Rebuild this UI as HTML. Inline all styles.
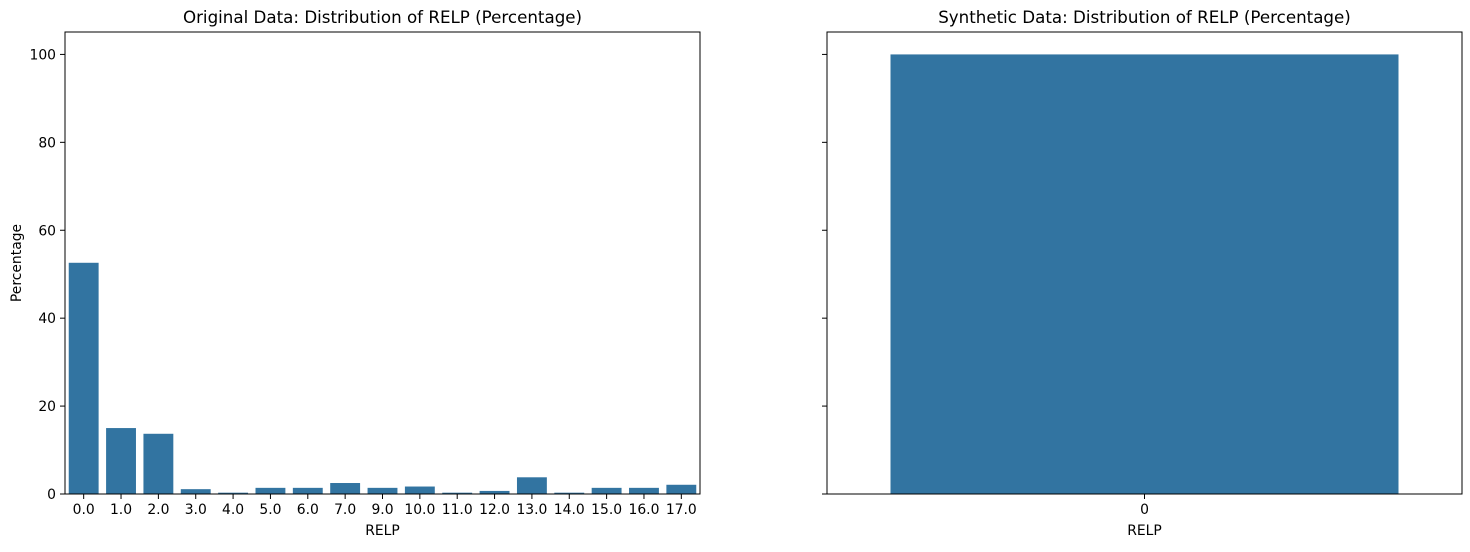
<!DOCTYPE html>
<html><head><meta charset="utf-8"><style>body{margin:0;background:#fff}svg{font-family:"DejaVu Sans","Liberation Sans",sans-serif}</style></head>
<body>
<svg id="c" width="1470" height="547" viewBox="0 0 1470 547" xmlns="http://www.w3.org/2000/svg"></svg>
<script>
const leftCats=["0.0","1.0","2.0","3.0","4.0","5.0","6.0","7.0","9.0","10.0","11.0","12.0","13.0","14.0","15.0","16.0","17.0"];
const leftVals=[52.6,15.0,13.7,1.1,0.3,1.4,1.4,2.5,1.4,1.7,0.3,0.7,3.8,0.3,1.4,1.4,2.1];
const rightCats=["0"];
const rightVals=[100];
const yTicks=[0,20,40,60,80,100];
const NS="http://www.w3.org/2000/svg";
const svg=document.getElementById('c');
function mk(t,a,p){const e=document.createElementNS(NS,t);for(const k in a)e.setAttribute(k,a[k]);(p||svg).appendChild(e);return e;}
const y0=494,yTop=32,yMax=105.1;
function ys(v){return y0-v/yMax*(y0-yTop);}
function panel(x0,x1,cats,vals,title,showY,bwFrac,prefix){
  const g=mk('g',{});
  
  
  const step=(x1-x0)/cats.length;
  cats.forEach((c,i)=>{
    const cx=x0+step*(i+0.5),bw=step*bwFrac;
    const r=mk('rect',{x:cx-bw/2,y:ys(vals[i]),width:bw,height:y0-ys(vals[i]),fill:'#3274a1'},g);
    
    
    mk('line',{x1:cx,x2:cx,y1:y0,y2:y0+5,stroke:'#000'},g);
    const t=mk('text',{x:cx,y:y0+20,'text-anchor':'middle','font-size':13.9},g);t.textContent=c;
    
    
  });
  yTicks.forEach(v=>{
    mk('line',{x1:x0-5,x2:x0,y1:ys(v),y2:ys(v),stroke:'#000'},g);
    if(showY){const t=mk('text',{x:x0-9,y:ys(v)+5,'text-anchor':'end','font-size':13.9},g);t.textContent=v;
    
    }
  });
  mk('rect',{x:x0,y:yTop,width:x1-x0,height:y0-yTop,fill:'none',stroke:'#000','stroke-width':1},g);
  const tt=mk('text',{x:(x0+x1)/2,y:23,'text-anchor':'middle','font-size':16.7},g);tt.textContent=title;
  
  
  const xl=mk('text',{x:(x0+x1)/2,y:535,'text-anchor':'middle','font-size':13.9},g);xl.textContent='RELP';
  
  
}
panel(65,700,leftCats,leftVals,'Original Data: Distribution of RELP (Percentage)',true,0.8,'original');
panel(827,1462,rightCats,rightVals,'Synthetic Data: Distribution of RELP (Percentage)',false,0.8,'synthetic');
const yl=mk('text',{x:21,y:263,'text-anchor':'middle','font-size':13.9,transform:'rotate(-90 21 263)'});yl.textContent='Percentage';


</script>
</body></html>
